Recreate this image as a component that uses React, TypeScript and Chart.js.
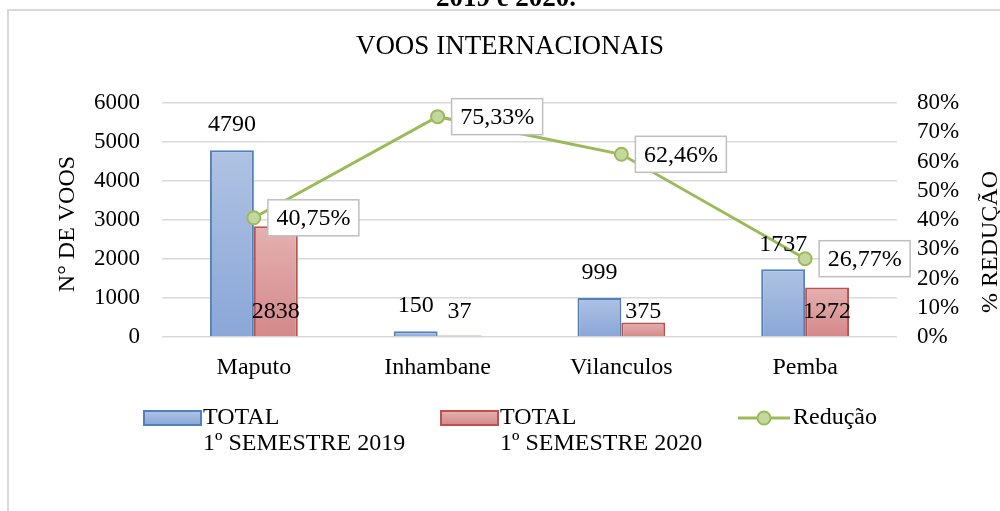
import React, { useEffect, useRef } from 'react';
import { Chart, registerables } from 'chart.js';

Chart.register(...registerables);

const categories = ['Maputo', 'Inhambane', 'Vilanculos', 'Pemba'];
const total2019 = [4790, 150, 999, 1737];
const total2020 = [2838, 37, 375, 1272];
const reducao = [40.75, 75.33, 62.46, 26.77];
const legend2019 = ['TOTAL', '1º SEMESTRE 2019'];
const legend2020 = ['TOTAL', '1º SEMESTRE 2020'];
const legendLine = 'Redução';
const chartTitle = 'VOOS INTERNACIONAIS';
const captionTail = '2019 e 2020.';
const leftAxisTitle = 'N° DE VOOS';
const rightAxisTitle = '% REDUÇÃO';

const FONT = '"Liberation Serif", "Times New Roman", serif';
const BLUE_TOP = '#afc2e3';
const BLUE_BOT = '#8aa7d8';
const BLUE_LINE = '#4f81bd';
const RED_TOP = '#e4b1b1';
const RED_BOT = '#d48889';
const RED_LINE = '#c0504d';
const GREEN = '#9bbb59';
const GREEN_FILL = '#c4d79e';
const GRID = '#d9d9d9';

function grad(ctx: CanvasRenderingContext2D, y0: number, y1: number, a: string, b: string) {
  const g = ctx.createLinearGradient(0, y0, 0, y1);
  g.addColorStop(0, a);
  g.addColorStop(1, b);
  return g;
}

function barFill(top: string, bot: string) {
  return (c: any) => {
    const chart = c.chart;
    if (c.type !== 'data' || !chart.chartArea || !chart.scales.y) return top;
    const y = chart.scales.y.getPixelForValue(c.raw);
    const b = chart.scales.y.getPixelForValue(0);
    if (!isFinite(y) || b - y < 1) return top;
    return grad(chart.ctx, y, b, top, bot);
  };
}

const fmtPct = (v: number) => v.toFixed(2).replace('.', ',') + '%';

const decorPlugin = {
  id: 'decor',
  beforeDraw(chart: any) {
    const ctx = chart.ctx as CanvasRenderingContext2D;
    ctx.save();
    ctx.fillStyle = '#ffffff';
    ctx.fillRect(0, 0, chart.width, chart.height);
    ctx.strokeStyle = GRID;
    ctx.lineWidth = 2;
    ctx.strokeRect(8, 10, 1100, 600);
    ctx.fillStyle = '#000';
    ctx.textAlign = 'center';
    ctx.textBaseline = 'alphabetic';
    ctx.font = `bold 27px ${FONT}`;
    ctx.fillText(captionTail, 506, 6);
    ctx.font = `27px ${FONT}`;
    ctx.textBaseline = 'middle';
    ctx.fillText(chartTitle, 510, 47);
    ctx.font = `24px ${FONT}`;
    ctx.save();
    ctx.translate(68, 224);
    ctx.rotate(-Math.PI / 2);
    ctx.fillText(leftAxisTitle, 0, 0);
    ctx.restore();
    ctx.save();
    ctx.translate(991, 242);
    ctx.rotate(-Math.PI / 2);
    ctx.fillText(rightAxisTitle, 0, 0);
    ctx.restore();
    ctx.restore();
  },
  afterDatasetsDraw(chart: any) {
    const ctx = chart.ctx as CanvasRenderingContext2D;
    const y0 = chart.scales.y.getPixelForValue(0);
    ctx.save();
    ctx.fillStyle = '#000';
    ctx.textAlign = 'center';
    ctx.textBaseline = 'middle';
    ctx.font = `24px ${FONT}`;
    const m0 = chart.getDatasetMeta(0);
    m0.data.forEach((el: any, i: number) => {
      ctx.fillText(String(total2019[i]), el.x, el.y - 25);
    });
    const m1 = chart.getDatasetMeta(1);
    m1.data.forEach((el: any, i: number) => {
      ctx.fillText(String(total2020[i]), el.x, y0 - 25);
    });
    const m2 = chart.getDatasetMeta(2);
    m2.data.forEach((el: any, i: number) => {
      const t = fmtPct(reducao[i]);
      const w = ctx.measureText(t).width + 17;
      const h = 36;
      const x = el.x + 14;
      const y = el.y - h / 2;
      ctx.fillStyle = '#fff';
      ctx.fillRect(x, y, w, h);
      ctx.strokeStyle = '#bfbfbf';
      ctx.lineWidth = 1.5;
      ctx.strokeRect(x, y, w, h);
      ctx.fillStyle = '#000';
      ctx.fillText(t, x + w / 2, el.y + 1);
    });

    ctx.font = `24px ${FONT}`;
    ctx.textAlign = 'left';
    const ly = 418;
    const sw = (x: number, top: string, bot: string, line: string) => {
      ctx.fillStyle = grad(ctx, ly - 7, ly + 7, top, bot);
      ctx.fillRect(x, ly - 7, 57, 14);
      ctx.strokeStyle = line;
      ctx.lineWidth = 2;
      ctx.strokeRect(x, ly - 7, 57, 14);
    };
    sw(144, BLUE_TOP, BLUE_BOT, BLUE_LINE);
    ctx.fillStyle = '#000';
    ctx.fillText(legend2019[0], 203, ly);
    ctx.fillText(legend2019[1], 203, ly + 26);
    sw(441, RED_TOP, RED_BOT, RED_LINE);
    ctx.fillStyle = '#000';
    ctx.fillText(legend2020[0], 500, ly);
    ctx.fillText(legend2020[1], 500, ly + 26);
    ctx.strokeStyle = GREEN;
    ctx.lineWidth = 3;
    ctx.beginPath();
    ctx.moveTo(738, ly);
    ctx.lineTo(790, ly);
    ctx.stroke();
    ctx.beginPath();
    ctx.arc(764, ly, 6.5, 0, Math.PI * 2);
    ctx.fillStyle = GREEN_FILL;
    ctx.fill();
    ctx.lineWidth = 2;
    ctx.stroke();
    ctx.fillStyle = '#000';
    ctx.fillText(legendLine, 793, ly);
    ctx.restore();
  },
};

export default function App() {
  const ref = useRef<HTMLCanvasElement | null>(null);
  useEffect(() => {
    if (!ref.current) return;
    const tickFont = { family: FONT, size: 23 };
    const catFont = { family: FONT, size: 24 };
    const chart = new Chart(ref.current, {
      type: 'bar',
      data: {
        labels: categories,
        datasets: [
          {
            type: 'bar',
            label: 'TOTAL 1º SEMESTRE 2019',
            data: total2019,
            backgroundColor: barFill(BLUE_TOP, BLUE_BOT),
            borderColor: BLUE_LINE,
            borderWidth: 2,
            yAxisID: 'y',
            order: 2,
            barPercentage: 1,
            categoryPercentage: 0.478,
          },
          {
            type: 'bar',
            label: 'TOTAL 1º SEMESTRE 2020',
            data: total2020,
            backgroundColor: barFill(RED_TOP, RED_BOT),
            borderColor: RED_LINE,
            borderWidth: 2,
            yAxisID: 'y',
            order: 2,
            barPercentage: 1,
            categoryPercentage: 0.478,
          },
          {
            type: 'line',
            label: legendLine,
            data: reducao,
            borderColor: GREEN,
            borderWidth: 3,
            pointRadius: 6.5,
            pointBorderWidth: 2,
            pointBackgroundColor: GREEN_FILL,
            pointBorderColor: GREEN,
            tension: 0,
            yAxisID: 'y2',
            order: 0,
          } as any,
        ],
      },
      options: {
        animation: false,
        responsive: true,
        maintainAspectRatio: false,
        events: [],
        layout: { padding: { top: 103, bottom: 114, left: 0, right: 0 } },
        plugins: {
          legend: { display: false },
          title: { display: false },
          tooltip: { enabled: false },
        },
        scales: {
          x: {
            grid: { display: false, drawTicks: false },
            border: { display: false },
            ticks: { font: catFont, color: '#000', padding: 16 },
            afterFit: (s: any) => {
              s.height = 60;
            },
          },
          y: {
            position: 'left',
            min: 0,
            max: 6000,
            ticks: {
              stepSize: 1000,
              font: tickFont,
              color: '#000',
              padding: 22,
              autoSkip: false,
              callback: (v: any) => String(v),
            },
            grid: { color: GRID, lineWidth: 1.5, drawTicks: false },
            border: { display: false },
            afterFit: (s: any) => {
              s.width = 162;
            },
          },
          y2: {
            position: 'right',
            min: 0,
            max: 80,
            ticks: {
              stepSize: 10,
              font: tickFont,
              color: '#000',
              padding: 20,
              autoSkip: false,
              callback: (v: any) => v + '%',
            },
            grid: { display: false, drawTicks: false },
            border: { display: false },
            afterFit: (s: any) => {
              s.width = 103;
            },
          },
        },
      },
      plugins: [decorPlugin],
    });
    return () => chart.destroy();
  }, []);
  return (
    <div style={{ position: 'absolute', left: 0, top: 0, width: 1000, height: 511 }}>
      <canvas ref={ref} />
    </div>
  );
}
